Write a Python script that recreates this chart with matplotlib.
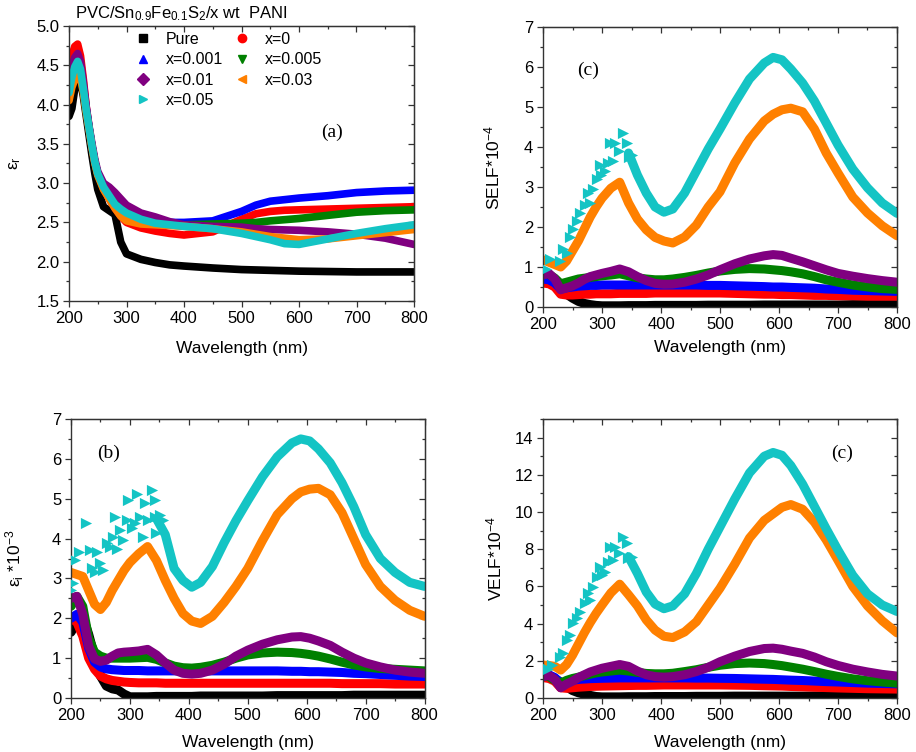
import numpy as np
import matplotlib
matplotlib.use("Agg")
import matplotlib.pyplot as plt
from matplotlib.lines import Line2D
from matplotlib.ticker import MultipleLocator

plt.rcParams["font.family"] = ["Liberation Sans", "DejaVu Sans"]
plt.rcParams["mathtext.default"] = "regular"

nan = np.nan

LABELS = ["Pure", "x=0", "x=0.001", "x=0.005", "x=0.01", "x=0.03", "x=0.05"]
COLORS = ["#000000", "#ff0000", "#0000ff", "#008000", "#800080", "#ff8000", "#14c4c4"]
MARKERS = ["s", "o", "^", "v", "D", "<", ">"]

# ---- (a) real part eps_r ----
WL_A = [200, 205, 210, 215, 220, 225, 230, 235, 240, 245, 250, 260, 270, 280, 290,
        300, 325, 350, 375, 400, 450, 500, 525, 550, 575, 600, 650, 700, 750, 800]
A_PURE = [3.85, 3.95, 4.20, 4.35, 4.30, 4.10, 3.85, 3.60, 3.35, 3.12, 2.92, 2.70, 2.65, 2.60, 2.25,
          2.10, 2.03, 1.99, 1.96, 1.945, 1.92, 1.90, 1.895, 1.89, 1.885, 1.88, 1.875, 1.87, 1.87, 1.87]
A_X0 = [4.45, 4.62, 4.74, 4.77, 4.62, 4.32, 3.97, 3.70, 3.47, 3.27, 3.12, 2.93, 2.80, 2.68, 2.58,
        2.50, 2.43, 2.39, 2.36, 2.34, 2.38, 2.54, 2.61, 2.64, 2.655, 2.66, 2.67, 2.68, 2.69, 2.70]
A_X001 = [4.25, 4.40, 4.50, 4.52, 4.45, 4.22, 3.95, 3.70, 3.47, 3.27, 3.12, 2.95, 2.85, 2.75, 2.67,
          2.61, 2.55, 2.52, 2.50, 2.50, 2.52, 2.64, 2.72, 2.77, 2.79, 2.81, 2.84, 2.88, 2.90, 2.91]
A_X005 = [4.20, 4.32, 4.38, 4.40, 4.35, 4.18, 3.93, 3.70, 3.47, 3.27, 3.12, 2.95, 2.84, 2.74, 2.66,
          2.60, 2.53, 2.50, 2.48, 2.47, 2.48, 2.49, 2.50, 2.52, 2.535, 2.55, 2.59, 2.63, 2.65, 2.66]
A_X01 = [4.30, 4.48, 4.60, 4.65, 4.55, 4.28, 3.97, 3.72, 3.50, 3.30, 3.15, 3.00, 2.95, 2.88, 2.80,
         2.72, 2.62, 2.57, 2.51, 2.47, 2.45, 2.44, 2.42, 2.41, 2.405, 2.40, 2.38, 2.35, 2.30, 2.22]
A_X03 = [4.05, 4.22, 4.32, 4.40, 4.35, 4.15, 3.90, 3.68, 3.45, 3.25, 3.10, 2.92, 2.80, 2.68, 2.58,
         2.52, 2.48, 2.47, 2.46, 2.45, 2.42, 2.38, 2.35, 2.32, 2.30, 2.28, 2.29, 2.33, 2.37, 2.41]
A_X05 = [4.15, 4.35, 4.48, 4.55, 4.45, 4.20, 3.93, 3.70, 3.47, 3.27, 3.12, 2.95, 2.84, 2.73, 2.67,
         2.62, 2.54, 2.49, 2.47, 2.45, 2.42, 2.36, 2.32, 2.28, 2.23, 2.22, 2.29, 2.36, 2.42, 2.47]

# ---- shared grid for (b), (c), (d) ----
WL = [200, 210, 220, 230, 240, 250, 260, 270, 280, 290, 300, 315, 330, 345, 360, 375, 390, 405, 420,
      440, 460, 480, 500, 525, 550, 575, 590, 605, 620, 640, 660, 680, 700, 725, 750, 775, 800]

# (b) imaginary part eps_i * 10^-3
B_PURE = [1.65, 1.90, 2.05, 1.60, 1.05, 0.55, 0.30, 0.23, 0.20, 0.10, 0.03, 0.03, 0.03, 0.04, 0.04,
          0.04, 0.04, 0.04, 0.05, 0.05, 0.05, 0.05, 0.05, 0.05, 0.06, 0.06, 0.06, 0.06, 0.06, 0.06,
          0.06, 0.07, 0.07, 0.07, 0.07, 0.07, 0.07]
B_X0 = [2.00, 1.90, 1.55, 1.00, 0.72, 0.55, 0.48, 0.44, 0.42, 0.40, 0.39, 0.38, 0.38, 0.38, 0.37,
        0.37, 0.37, 0.37, 0.37, 0.37, 0.37, 0.37, 0.37, 0.37, 0.37, 0.37, 0.37, 0.37, 0.37, 0.37,
        0.36, 0.36, 0.36, 0.36, 0.35, 0.35, 0.35]
B_X001 = [2.00, 2.10, 1.90, 1.25, 0.90, 0.78, 0.73, 0.71, 0.70, 0.69, 0.69, 0.69, 0.68, 0.68, 0.68,
          0.68, 0.68, 0.68, 0.68, 0.68, 0.68, 0.68, 0.68, 0.68, 0.68, 0.67, 0.67, 0.66, 0.66, 0.65,
          0.64, 0.62, 0.61, 0.59, 0.57, 0.55, 0.54]
B_X005 = [2.30, 2.55, 2.30, 1.50, 1.15, 1.05, 1.00, 1.00, 1.00, 1.00, 1.00, 1.01, 1.02, 0.97, 0.88,
          0.80, 0.76, 0.75, 0.77, 0.82, 0.90, 1.00, 1.08, 1.13, 1.15, 1.14, 1.12, 1.09, 1.05, 0.98,
          0.90, 0.83, 0.78, 0.74, 0.72, 0.70, 0.68]
B_X01 = [2.50, 2.55, 2.10, 1.30, 0.98, 0.92, 0.95, 1.05, 1.13, 1.15, 1.16, 1.18, 1.22, 1.08, 0.88,
         0.70, 0.62, 0.60, 0.62, 0.70, 0.85, 1.05, 1.20, 1.35, 1.46, 1.53, 1.54, 1.50, 1.43, 1.32,
         1.15, 1.00, 0.88, 0.78, 0.70, 0.65, 0.62]
B_X03 = [3.15, 3.10, 3.05, 2.70, 2.35, 2.22, 2.40, 2.70, 2.95, 3.20, 3.40, 3.62, 3.80, 3.45, 2.95,
         2.50, 2.12, 1.93, 1.87, 2.05, 2.40, 2.80, 3.25, 3.95, 4.60, 5.00, 5.17, 5.24, 5.26, 5.10,
         4.65, 4.00, 3.35, 2.80, 2.45, 2.20, 2.05]
B_X05 = [nan, nan, nan, nan, nan, nan, nan, nan, nan, nan, nan, nan, nan, 4.50, 4.10,
         3.25, 2.95, 2.78, 2.90, 3.30, 3.90, 4.45, 4.95, 5.55, 6.05, 6.40, 6.50, 6.45, 6.25, 5.90,
         5.40, 4.80, 4.10, 3.50, 3.15, 2.90, 2.80]
B_SCAT_WL = [200, 204, 207, 214, 225.5, 232, 236, 241, 243.6, 249, 255, 260.6, 266, 272, 274.7,
             277.5, 283, 289, 294.5, 297, 303, 308.7, 311.5, 317, 322.8, 325.6, 331, 337, 342.6,
             342.6, 345, 351, 356.8]
B_SCAT = [2.71, 2.88, 3.45, 3.67, 4.38, 3.71, 3.25, 3.17, 3.67, 3.38, 3.21, 3.88, 3.80, 4.05, 4.55,
          3.75, 4.21, 3.96, 4.47, 4.97, 4.26, 4.38, 5.13, 4.55, 4.05, 4.88, 4.47, 5.22, 4.97,
          4.55, 4.13, 4.59, 4.47]

# (c) SELF * 10^-4
C_PURE = [0.65, 0.62, 0.58, 0.45, 0.32, 0.22, 0.14, 0.09, 0.06, 0.04, 0.03, 0.03, 0.03, 0.035, 0.035,
          0.035, 0.04, 0.04, 0.04, 0.04, 0.04, 0.045, 0.045, 0.045, 0.045, 0.05, 0.05, 0.05, 0.05,
          0.05, 0.05, 0.05, 0.05, 0.06, 0.06, 0.06, 0.06]
C_X0 = [0.60, 0.58, 0.50, 0.32, 0.30, 0.30, 0.31, 0.32, 0.32, 0.33, 0.33, 0.33, 0.34, 0.34, 0.34,
        0.34, 0.35, 0.35, 0.35, 0.35, 0.35, 0.35, 0.35, 0.34, 0.33, 0.32, 0.32, 0.31, 0.31, 0.30,
        0.29, 0.29, 0.28, 0.28, 0.27, 0.27, 0.27]
C_X001 = [0.70, 0.68, 0.60, 0.45, 0.48, 0.50, 0.52, 0.53, 0.54, 0.54, 0.55, 0.55, 0.55, 0.55, 0.55,
          0.55, 0.55, 0.55, 0.55, 0.55, 0.55, 0.54, 0.54, 0.53, 0.52, 0.51, 0.50, 0.50, 0.49, 0.48,
          0.47, 0.45, 0.44, 0.42, 0.41, 0.40, 0.39]
C_X005 = [0.85, 0.82, 0.72, 0.58, 0.62, 0.66, 0.70, 0.72, 0.74, 0.76, 0.78, 0.80, 0.83, 0.78, 0.73,
          0.70, 0.68, 0.68, 0.70, 0.74, 0.79, 0.85, 0.90, 0.94, 0.96, 0.95, 0.93, 0.91, 0.88, 0.83,
          0.76, 0.68, 0.62, 0.55, 0.50, 0.46, 0.44]
C_X01 = [0.80, 0.84, 0.70, 0.43, 0.48, 0.53, 0.60, 0.69, 0.76, 0.80, 0.84, 0.89, 0.95, 0.88, 0.76,
         0.66, 0.59, 0.57, 0.575, 0.62, 0.70, 0.80, 0.93, 1.08, 1.20, 1.28, 1.31, 1.29, 1.22, 1.13,
         1.03, 0.93, 0.84, 0.77, 0.71, 0.66, 0.62]
C_X03 = [1.18, 1.12, 1.06, 1.00, 1.15, 1.40, 1.65, 1.95, 2.25, 2.50, 2.72, 2.97, 3.12, 2.60, 2.20,
         1.93, 1.74, 1.65, 1.60, 1.75, 2.05, 2.50, 2.88, 3.60, 4.20, 4.65, 4.82, 4.93, 4.97, 4.88,
         4.45, 3.85, 3.35, 2.75, 2.35, 2.03, 1.78]
C_X05 = [nan, nan, nan, nan, nan, nan, nan, nan, nan, nan, nan, nan, nan, 3.85, 3.30,
         2.85, 2.50, 2.37, 2.45, 2.85, 3.40, 3.95, 4.45, 5.10, 5.70, 6.10, 6.24, 6.18, 5.95, 5.60,
         5.15, 4.60, 4.05, 3.45, 2.98, 2.60, 2.34]
C_SCAT_WL = [205, 212, 229, 234, 240, 246, 251, 257, 263, 271, 277, 280, 285, 291, 297, 299, 305,
             311, 314, 319, 322, 328, 336, 342, 345, 350]
C_SCAT = [0.95, 1.20, 1.15, 1.45, 1.35, 1.75, 1.95, 2.15, 2.35, 2.55, 2.85, 2.60, 2.95, 3.20, 3.55,
          3.30, 3.40, 3.60, 4.10, 3.65, 4.10, 3.90, 4.35, 4.10, 3.75, 3.80]

# (d) VELF * 10^-4
D_PURE = [1.20, 1.15, 1.05, 0.85, 0.60, 0.40, 0.28, 0.20, 0.14, 0.08, 0.06, 0.06, 0.06, 0.07, 0.07,
          0.07, 0.08, 0.08, 0.08, 0.08, 0.09, 0.09, 0.09, 0.10, 0.10, 0.10, 0.10, 0.10, 0.10, 0.10,
          0.11, 0.11, 0.11, 0.11, 0.12, 0.12, 0.12]
D_X0 = [1.10, 1.05, 0.90, 0.55, 0.52, 0.55, 0.58, 0.60, 0.62, 0.63, 0.64, 0.65, 0.66, 0.67, 0.68,
        0.68, 0.69, 0.70, 0.70, 0.70, 0.70, 0.70, 0.70, 0.69, 0.68, 0.66, 0.65, 0.64, 0.62, 0.60,
        0.58, 0.56, 0.54, 0.52, 0.50, 0.49, 0.48]
D_X001 = [1.30, 1.25, 1.10, 0.80, 0.88, 0.95, 1.00, 1.02, 1.04, 1.05, 1.06, 1.07, 1.08, 1.08, 1.08,
          1.08, 1.08, 1.08, 1.08, 1.08, 1.07, 1.07, 1.06, 1.05, 1.03, 1.01, 1.00, 0.98, 0.96, 0.94,
          0.91, 0.88, 0.86, 0.83, 0.80, 0.78, 0.76]
D_X005 = [1.20, 1.15, 0.95, 0.80, 0.95, 1.05, 1.12, 1.20, 1.28, 1.35, 1.40, 1.45, 1.50, 1.45, 1.38,
          1.32, 1.30, 1.30, 1.33, 1.42, 1.52, 1.65, 1.76, 1.85, 1.88, 1.85, 1.80, 1.74, 1.66, 1.55,
          1.42, 1.28, 1.16, 1.03, 0.93, 0.86, 0.80]
D_X01 = [1.14, 1.23, 1.00, 0.55, 0.75, 0.90, 1.10, 1.25, 1.40, 1.50, 1.60, 1.70, 1.80, 1.70, 1.45,
         1.25, 1.15, 1.12, 1.15, 1.25, 1.42, 1.65, 1.95, 2.25, 2.50, 2.66, 2.68, 2.62, 2.52, 2.40,
         2.20, 1.95, 1.75, 1.55, 1.40, 1.27, 1.18]
D_X03 = [1.77, 1.75, 1.70, 1.50, 1.80, 2.30, 2.90, 3.50, 4.05, 4.55, 5.00, 5.65, 6.12, 5.55, 4.95,
         4.20, 3.65, 3.32, 3.25, 3.55, 4.10, 5.00, 5.90, 7.20, 8.60, 9.55, 9.90, 10.25, 10.40, 10.15,
         9.45, 8.50, 7.40, 6.00, 4.95, 4.15, 3.50]
D_X05 = [nan, nan, nan, nan, nan, nan, nan, nan, nan, nan, nan, nan, nan, 7.60, 6.70,
         5.70, 5.05, 4.80, 4.95, 5.60, 6.70, 8.00, 9.20, 10.70, 12.10, 13.00, 13.20, 13.05, 12.50,
         11.50, 10.30, 9.10, 7.95, 6.60, 5.60, 5.00, 4.65]
D_SCAT_WL = [209, 216, 229, 234.5, 240, 245.8, 251, 257, 262.7, 271, 276.8, 279.7, 285, 291, 296.6,
             299.4, 305, 310.7, 313.6, 319, 322, 328, 336, 341.8, 344.6, 350]
D_SCAT = [1.55, 1.75, 2.23, 2.41, 3.13, 3.40, 4.02, 4.29, 4.65, 5.10, 5.63, 5.27, 5.99, 6.53, 7.06,
          6.62, 6.79, 7.33, 8.14, 7.42, 8.14, 7.78, 8.67, 8.31, 7.51, 7.60]

W, H = 916, 752
fig = plt.figure(figsize=(W / 100, H / 100), dpi=100)


def px_axes(left, top, right, bottom):
    return fig.add_axes([left / W, 1 - bottom / H, (right - left) / W, (bottom - top) / H])


def draw(ax, wl, series, lw, scat=None):
    for vals, c in zip(series, COLORS):
        ax.plot(wl, vals, color=c, lw=lw, solid_capstyle="round", solid_joinstyle="round")
    if scat is not None:
        ax.scatter(scat[0], scat[1], marker=">", s=65, color=COLORS[-1], linewidths=0, zorder=3)


def style(ax, ylim, ymaj, ymin, ylabel, ylab_x, xlab_y):
    ax.set_xlim(200, 800)
    ax.set_ylim(*ylim)
    ax.xaxis.set_major_locator(MultipleLocator(100)); ax.xaxis.set_minor_locator(MultipleLocator(50))
    ax.yaxis.set_major_locator(MultipleLocator(ymaj)); ax.yaxis.set_minor_locator(MultipleLocator(ymin))
    ax.tick_params(which="both", direction="out", top=False, right=False, labelsize=12,
                   color="#333333", width=0.9, pad=2.5)
    ax.tick_params(which="major", length=4.5)
    ax.tick_params(which="minor", length=2.5)
    for s in ax.spines.values():
        s.set_color("#333333"); s.set_linewidth(1.0)
    sx = ax.secondary_xaxis("top")
    sx.xaxis.set_major_locator(MultipleLocator(100)); sx.xaxis.set_minor_locator(MultipleLocator(50))
    sx.tick_params(which="both", direction="in", labeltop=False, color="#333333", width=0.9)
    sx.tick_params(which="major", length=4.5); sx.tick_params(which="minor", length=2.5)
    sy = ax.secondary_yaxis("right")
    sy.yaxis.set_major_locator(MultipleLocator(ymaj)); sy.yaxis.set_minor_locator(MultipleLocator(ymin))
    sy.tick_params(which="both", direction="in", labelright=False, color="#333333", width=0.9)
    sy.tick_params(which="major", length=4.5); sy.tick_params(which="minor", length=2.5)
    ax.set_xlabel("Wavelength (nm)", fontsize=12.5, va="center")
    ax.xaxis.set_label_coords(0.5, xlab_y)
    ax.set_ylabel(ylabel, fontsize=12.5, va="center")
    ax.yaxis.set_label_coords(ylab_x, 0.5)


def tag(ax, x, y, s):
    ax.text(x, y, s, transform=ax.transAxes, fontsize=14, family="Liberation Serif",
            ha="center", va="center")


# (a)
ax_a = px_axes(69, 26, 414, 301)
draw(ax_a, WL_A, [A_PURE, A_X0, A_X001, A_X005, A_X01, A_X03, A_X05], 5.5)
style(ax_a, (1.5, 5.0), 0.5, 0.25, "ε$_r$", -0.157, -0.171)
tag(ax_a, 0.762, 0.615, "(a)")
order = [0, 2, 4, 6, 1, 3, 5]
handles = [Line2D([], [], ls="none", marker=MARKERS[i], color=COLORS[i], markersize=6) for i in order]
ax_a.legend(handles, [LABELS[i] for i in order], ncol=2, loc="upper left",
            bbox_to_anchor=(0.168, 1.007), frameon=False, fontsize=11.5, borderpad=0,
            handlelength=1.0, handletextpad=0.95, columnspacing=0.65, labelspacing=0.33)
fig.text(75 / W, 1 - 14 / H, "PVC/Sn$_{0.9}$Fe$_{0.1}$S$_2$/x wt  PANI", fontsize=12, va="center")

# (c) SELF
ax_c = px_axes(543, 27, 897, 307)
draw(ax_c, WL, [C_PURE, C_X0, C_X001, C_X005, C_X01, C_X03, C_X05], 6.5, (C_SCAT_WL, C_SCAT))
style(ax_c, (0, 7), 1, 0.5, "SELF*10$^{-4}$", -0.144, -0.143)
tag(ax_c, 0.127, 0.846, "(c)")

# (b) eps_i
ax_b = px_axes(71, 419, 424.5, 698)
draw(ax_b, WL, [B_PURE, B_X0, B_X001, B_X005, B_X01, B_X03, B_X05], 6.5, (B_SCAT_WL, B_SCAT))
style(ax_b, (0, 7), 1, 0.5, "ε$_i$ *10$^{-3}$", -0.158, -0.158)
tag(ax_b, 0.107, 0.878, "(b)")

# (d) VELF
ax_d = px_axes(543, 419, 897, 698)
draw(ax_d, WL, [D_PURE, D_X0, D_X001, D_X005, D_X01, D_X03, D_X05], 6.5, (D_SCAT_WL, D_SCAT))
style(ax_d, (0, 15), 2, 1, "VELF*10$^{-4}$", -0.136, -0.158)
tag(ax_d, 0.844, 0.878, "(c)")

fig.savefig("out.png", dpi=100, facecolor="white")
print("Wrote out.png")
